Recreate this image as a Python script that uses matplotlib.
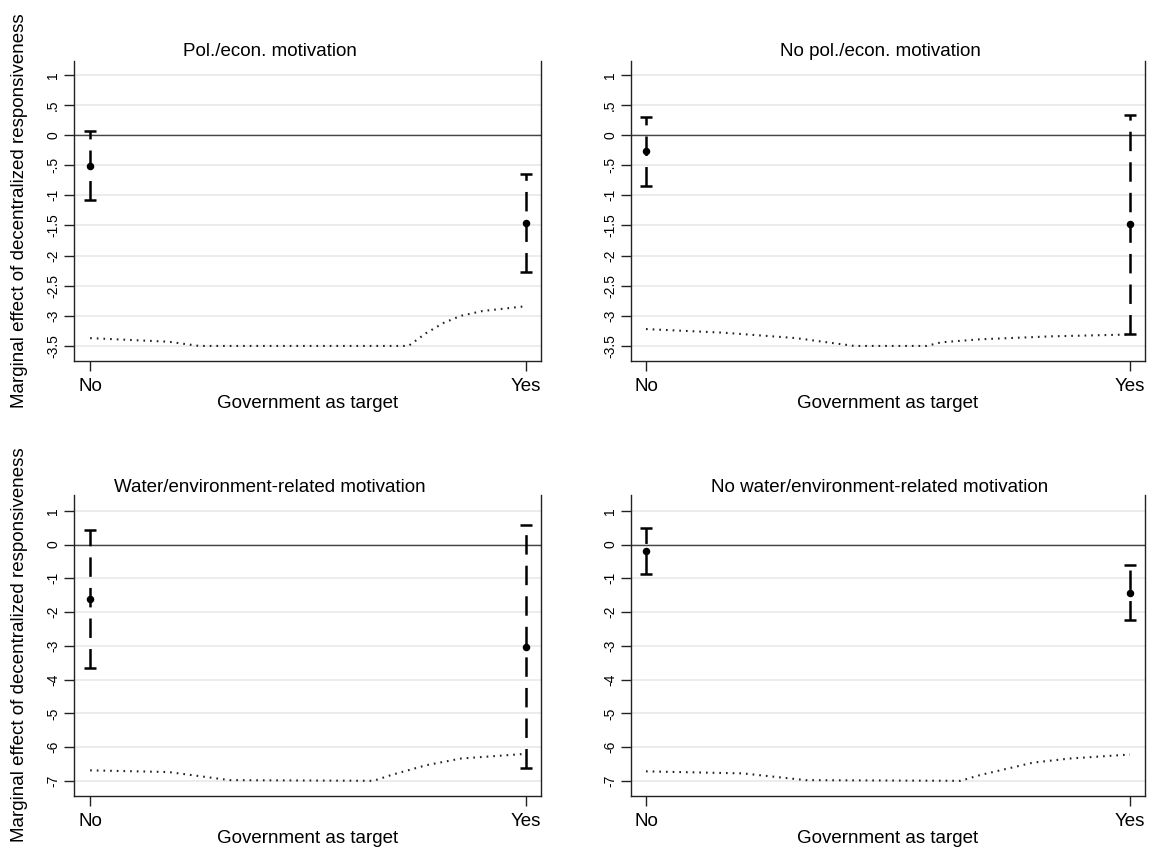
import numpy as np
import matplotlib
matplotlib.use("Agg")
from matplotlib import pyplot as plt

plt.rcParams['font.family'] = ['Liberation Sans', 'DejaVu Sans']
plt.rcParams['lines.scale_dashes'] = False

# panel titles
titles = ["Pol./econ. motivation", "No pol./econ. motivation",
          "Water/environment-related motivation", "No water/environment-related motivation"]

x_pos = [0, 1]
x_labels = ["No", "Yes"]

# point estimates and 95% CI per panel (No, Yes)
est = [[-0.52, -1.46], [-0.27, -1.48], [-1.60, -3.02], [-0.18, -1.42]]
ci_low = [[-1.08, -2.28], [-0.85, -3.30], [-3.65, -6.62], [-0.87, -2.22]]
ci_high = [[0.07, -0.65], [0.30, 0.33], [0.42, 0.58], [0.50, -0.60]]

# dotted distribution line per panel
dist_x = [
    [0.0, 0.18, 0.25, 0.73, 0.77, 0.81, 0.85, 0.90, 1.0],
    [0.0, 0.16, 0.31, 0.43, 0.58, 0.61, 0.69, 0.84, 1.0],
    [0.0, 0.18, 0.32, 0.65, 0.69, 0.77, 0.85, 1.0],
    [0.0, 0.20, 0.33, 0.65, 0.69, 0.80, 0.875, 1.0],
]
dist_y = [
    [-3.37, -3.43, -3.50, -3.50, -3.29, -3.12, -3.00, -2.92, -2.84],
    [-3.22, -3.28, -3.37, -3.50, -3.50, -3.44, -3.39, -3.34, -3.31],
    [-6.69, -6.74, -6.98, -7.00, -6.83, -6.54, -6.34, -6.20],
    [-6.72, -6.78, -6.98, -7.00, -6.83, -6.46, -6.34, -6.22],
]

yt_top = [1, 0.5, 0, -0.5, -1, -1.5, -2, -2.5, -3, -3.5]
yl_top = ["1", ".5", "0", "-.5", "-1", "-1.5", "-2", "-2.5", "-3", "-3.5"]
yt_bot = [1, 0, -1, -2, -3, -4, -5, -6, -7]
yl_bot = ["1", "0", "-1", "-2", "-3", "-4", "-5", "-6", "-7"]

W, H = 1149, 851
fig = plt.figure(figsize=(W / 100, H / 100), dpi=100)

def px(l, t, r, b):
    return [l / W, 1 - b / H, (r - l) / W, (b - t) / H]

rects = [px(74, 61, 541, 361), px(631, 61, 1145, 361),
         px(74, 495, 541, 796), px(631, 495, 1145, 796)]
xlims = [(-0.037, 1.034), (-0.031, 1.031), (-0.037, 1.034), (-0.031, 1.031)]
ylims = [(-3.75, 1.23), (-3.75, 1.23), (-7.45, 1.47), (-7.45, 1.47)]
title_x = [270, 880, 270, 880]
title_y = [52, 52, 487, 487]

dark = '#222222'
for i in range(4):
    ax = fig.add_axes(rects[i])
    top = i < 2
    yt, yl = (yt_top, yl_top) if top else (yt_bot, yl_bot)
    for v in yt:
        ax.axhline(v, color='#ebebeb', lw=1.3, zorder=0)
    ax.axhline(0, color='#444444', lw=1.0, zorder=1)

    ax.plot(dist_x[i], dist_y[i], color='#222222', lw=1.5,
            linestyle=(0, (1.2, 3.6)), zorder=2)

    for j in range(2):
        ax.plot([x_pos[j], x_pos[j]], [ci_low[i][j], ci_high[i][j]],
                color='black', lw=1.8, linestyle=(0, (14, 8)), zorder=3)
        ax.plot([x_pos[j], x_pos[j]], [ci_low[i][j], ci_high[i][j]],
                linestyle='none', marker='_', markersize=8.5,
                markeredgewidth=1.8, color='black', zorder=3)
        ax.plot(x_pos[j], est[i][j], 'o', color='black', markersize=4.4, zorder=4)

    ax.set_xlim(*xlims[i])
    ax.set_ylim(*ylims[i])
    ax.set_xticks(x_pos)
    ax.set_xticklabels(x_labels, fontsize=13.5)
    ax.set_yticks(yt)
    ax.set_yticklabels(yl, fontsize=10, rotation=90, va='center')
    ax.tick_params(axis='x', length=7, width=1.0, color=dark, pad=5)
    ax.tick_params(axis='y', length=7, width=1.0, color=dark, pad=3)
    ax.spines['top'].set_visible(False)
    for s in ['left', 'bottom', 'right']:
        ax.spines[s].set_color(dark)
        ax.spines[s].set_linewidth(1.0)
    ax.set_xlabel("Government as target", fontsize=13.5, labelpad=0)
    fig.text(title_x[i] / W, 1 - title_y[i] / H, titles[i], fontsize=13.5,
             ha='center', va='center')

fig.text(20 / W, 1 - 211 / H, "Marginal effect of decentralized responsiveness",
         fontsize=13.5, rotation=90, ha='center', va='center')
fig.text(20 / W, 1 - 645 / H, "Marginal effect of decentralized responsiveness",
         fontsize=13.5, rotation=90, ha='center', va='center')

fig.savefig("out.png", dpi=100, facecolor='white')
